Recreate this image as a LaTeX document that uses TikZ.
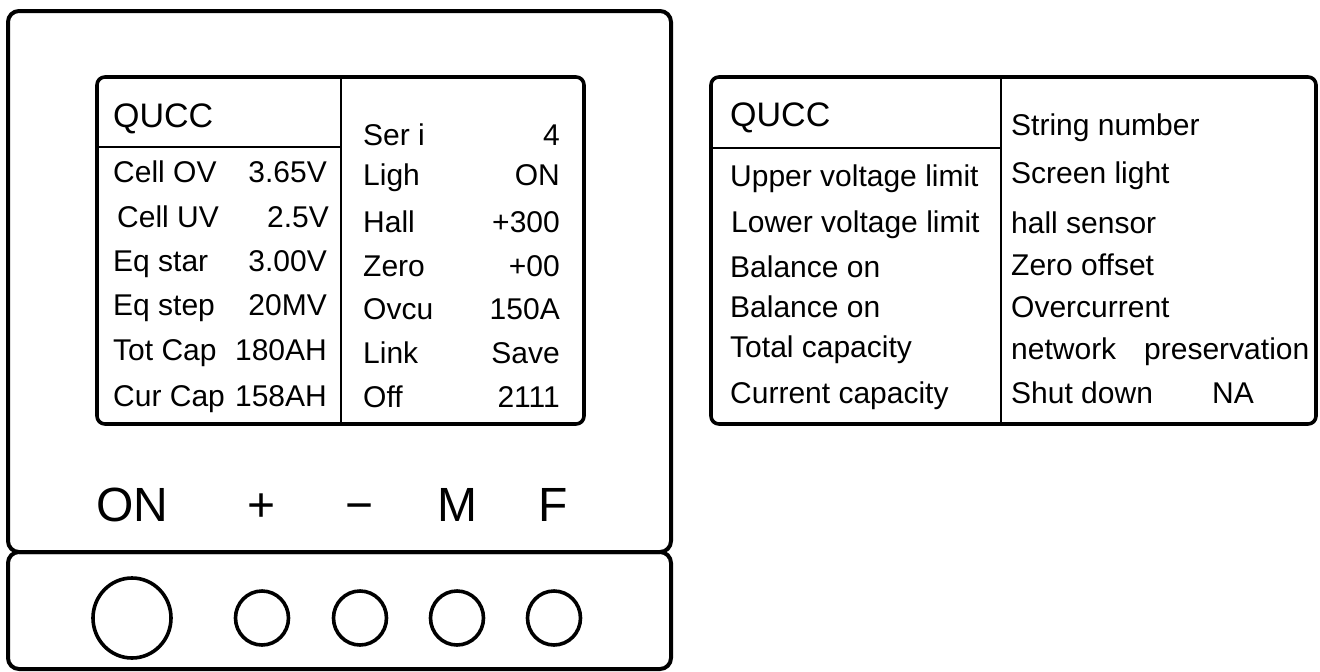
\documentclass[tikz,border=0pt]{standalone}
\usepackage{fontspec}
\setmainfont{Liberation Sans}
\begin{document}
\begin{tikzpicture}[x=1pt,y=-1pt,
  frame/.style={line width=4pt, rounded corners=11pt},
  scr/.style={line width=3.6pt, rounded corners=8pt},
  thin/.style={line width=2pt},
  txt/.style={font=\fontsize{30}{36}\selectfont, inner sep=0pt, anchor=base west},
  val/.style={font=\fontsize{30}{36}\selectfont, inner sep=0pt, anchor=base east},
  title/.style={font=\fontsize{34}{40}\selectfont, inner sep=0pt, anchor=base west},
  key/.style={font=\fontsize{48}{56}\selectfont, inner sep=0pt, anchor=base},
  btn/.style={line width=3.6pt}]
\useasboundingbox (0,0) rectangle (1320,672);
% device frame
\draw[frame] (8,11) rectangle (671,552);
\draw[frame] (8,552) rectangle (671,669);
% screen
\draw[scr] (97,77) rectangle (584,424);
\draw[thin] (341,77) -- (341,424);
\draw[thin] (97,147) -- (341,147);
\node[title] (q1) at (113,127) {QUCC};
\node[txt] (a1) at (113,182) {Cell OV};
\node[txt] (a2) at (117,227) {Cell UV};
\node[txt] (a3) at (113,271) {Eq star};
\node[txt] (a4) at (113,315) {Eq step};
\node[txt] (a5) at (113,360) {Tot Cap};
\node[txt] (a6) at (113,406) {Cur Cap};
\node[val] (b1) at (327,182) {3.65V};
\node[val] (b2) at (329,227) {2.5V};
\node[val] (b3) at (327,271) {3.00V};
\node[val] (b4) at (327,315) {20MV};
\node[val] (b5) at (327,360) {180AH};
\node[val] (b6) at (327,406) {158AH};
\node[txt] (c1) at (363,145) {Ser i};
\node[txt] (c2) at (363,185) {Ligh};
\node[txt] (c3) at (363,232) {Hall};
\node[txt] (c4) at (363,276) {Zero};
\node[txt] (c5) at (363,319) {Ovcu};
\node[txt] (c6) at (363,363) {Link};
\node[txt] (c7) at (363,407) {Off};
\node[val] (d1) at (560,145) {4};
\node[val] (d2) at (560,185) {ON};
\node[val] (d3) at (560,232) {+300};
\node[val] (d4) at (560,276) {+00};
\node[val] (d5) at (560,319) {150A};
\node[val] (d6) at (560,363) {Save};
\node[val] (d7) at (560,407) {2111};
% key labels
\node[key] (kon) at (132,521) {ON};
\node[key] (kp) at (262,521) {+};
\node[key] (km) at (360,521) {−};
\node[key] (kM) at (457,521) {M};
\node[key] (kF) at (553,521) {F};
% buttons
\draw[btn] (132,618) ellipse (39pt and 40pt);
\draw[btn] (262,618) ellipse (26.5pt and 27pt);
\draw[btn] (360,618) ellipse (26.5pt and 27pt);
\draw[btn] (457,618) ellipse (26.5pt and 27pt);
\draw[btn] (554,618) ellipse (26.5pt and 27pt);
% legend panel
\draw[scr] (711,77) rectangle (1316,424);
\draw[thin] (1001,77) -- (1001,424);
\draw[thin] (711,148) -- (1001,148);
\node[title] (q2) at (730,126) {QUCC};
\node[txt] (e1) at (730,186) {Upper voltage limit};
\node[txt] (e2) at (731,232) {Lower voltage limit};
\node[txt] (e3) at (730,277) {Balance on};
\node[txt] (e4) at (730,317) {Balance on};
\node[txt] (e5) at (730,357) {Total capacity};
\node[txt] (e6) at (730,403) {Current capacity};
\node[txt] (f1) at (1011,135) {String number};
\node[txt] (f2) at (1011,183) {Screen light};
\node[txt] (f3) at (1011,233) {hall sensor};
\node[txt] (f4) at (1011,275) {Zero offset};
\node[txt] (f5) at (1011,317) {Overcurrent};
\node[txt] (f6) at (1011,359) {network};
\node[txt] (f6b) at (1144,359) {preservation};
\node[txt] (f7) at (1011,403) {Shut down};
\node[txt] (f7b) at (1212,403) {NA};
\end{tikzpicture}
\end{document}
